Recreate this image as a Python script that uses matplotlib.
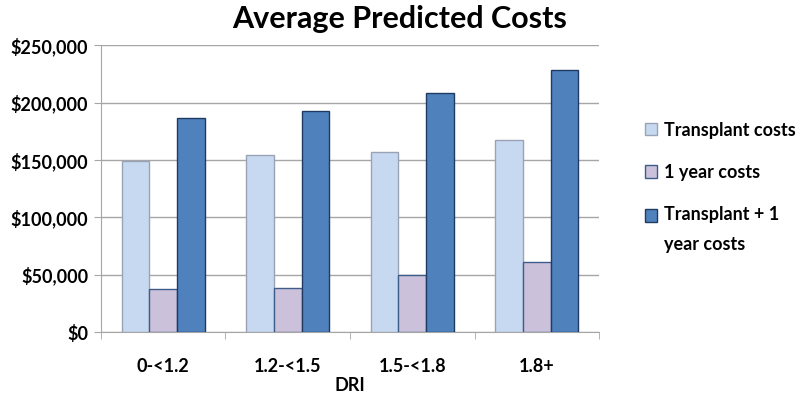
import matplotlib
matplotlib.use('Agg')
import matplotlib.pyplot as plt
import numpy as np
from matplotlib.ticker import FuncFormatter, MultipleLocator

plt.rcParams['font.family'] = ['Lato', 'DejaVu Sans']
plt.rcParams['font.weight'] = 'bold'

categories = ['0-<1.2', '1.2-<1.5', '1.5-<1.8', '1.8+']
series_names = ['Transplant costs', '1 year costs', 'Transplant + 1\nyear costs']
transplant = [149000, 154000, 156500, 167000]
one_year = [37500, 38500, 50000, 61000]
total = [186500, 193000, 208000, 228000]

faces = ['#C6D9F1', '#CCC1DA', '#4F81BD']
edges = ['#9AA3B5', '#3E5C8A', '#1F3A63']

fig = plt.figure(figsize=(8, 4), dpi=100)
ax = fig.add_axes([0.126, 0.17, 0.623, 0.717])

x = np.arange(len(categories))
w = 0.222
for k, vals in enumerate([transplant, one_year, total]):
    ax.bar(x + (k - 1) * w, vals, width=w, color=faces[k], edgecolor=edges[k],
           linewidth=1.0, label=series_names[k], zorder=3)

ax.set_xlim(-0.5, len(categories) - 0.5)
ax.set_ylim(0, 250000)
ax.yaxis.set_major_locator(MultipleLocator(50000))
ax.yaxis.set_major_formatter(FuncFormatter(lambda v, p: '${:,.0f}'.format(v)))
ax.grid(axis='y', color='#A6A6A6', linewidth=1.0, zorder=0)

ax.set_xticks(x)
ax.set_xticklabels(categories)
ax.set_xticks(np.arange(-0.5, len(categories)), minor=True)
ax.tick_params(axis='x', which='major', length=0, pad=19, labelsize=13)
ax.tick_params(axis='x', which='minor', length=5, color='#A6A6A6')
ax.tick_params(axis='y', length=5, color='#A6A6A6', labelsize=13, pad=4)

for s in ['top', 'right']:
    ax.spines[s].set_visible(False)
for s in ['left', 'bottom']:
    ax.spines[s].set_color('#A6A6A6')

ax.set_xlabel('DRI', fontsize=13, fontweight='bold', labelpad=1)
fig.text(0.5, 0.953, 'Average Predicted Costs', ha='center', va='center',
         fontsize=22, fontweight='bold')

leg = ax.legend(loc='center left', bbox_to_anchor=(1.06, 0.505), frameon=False,
                fontsize=13, handlelength=0.65, handleheight=0.65,
                labelspacing=1.4, handletextpad=0.4)
for t in leg.get_texts():
    t.set_linespacing(1.9)
# keep the square of the two-line entry level with its first line
last = leg.get_patches()[-1]
last.set_y(last.get_y() + 10.5)

fig.savefig('out.png', dpi=100)
